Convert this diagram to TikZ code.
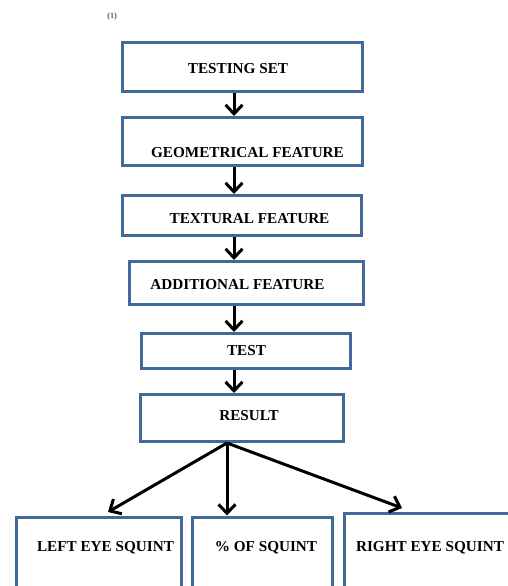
\documentclass[tikz,border=0pt]{standalone}
\usepackage{fontspec}
\setmainfont{Liberation Serif}
\usetikzlibrary{arrows.meta}
\definecolor{boxblue}{HTML}{41699A}
\tikzset{
  box/.style={draw=boxblue, line width=3pt, rectangle, inner sep=0pt, fill=white},
  lbl/.style={font=\fontsize{15.2}{17}\selectfont\bfseries, inner sep=0pt, anchor=center},
  arr/.style={draw=black, line width=3pt, -{Straight Barb[length=9pt,width=17pt,line width=3pt]}},
}
\begin{document}
\begin{tikzpicture}[x=1pt,y=-1pt]
\useasboundingbox[fill=white] (0,0) rectangle (507,586);
% boxes
\node[box, minimum width=240pt, minimum height=49pt] (b1) at (242.5,67) {};
\node[box, minimum width=240pt, minimum height=48pt] (b2) at (242,141.5) {};
\node[box, minimum width=239pt, minimum height=40pt] (b3) at (242,215.5) {};
\node[box, minimum width=234pt, minimum height=43pt] (b4) at (246.5,283) {};
\node[box, minimum width=209pt, minimum height=35pt] (b5) at (246,351) {};
\node[box, minimum width=203pt, minimum height=47pt] (b6) at (242,418) {};
\node[box, minimum width=165pt, minimum height=120pt] (b7) at (99,577) {};
\node[box, minimum width=140pt, minimum height=120pt] (b8) at (262.5,577) {};
\node[box, minimum width=196pt, minimum height=120pt] (b9) at (442,573) {};
% labels
\node[font=\fontsize{8}{9}\selectfont] (note) at (112,17) {(1)};
\node[lbl] (t1) at (238,69) {TESTING SET};
\node[lbl] (t2) at (247.5,153) {GEOMETRICAL FEATURE};
\node[lbl] (t3) at (249.5,219) {TEXTURAL FEATURE};
\node[lbl] (t4) at (237.5,285) {ADDITIONAL FEATURE};
\node[lbl] (t5) at (246.5,351) {TEST};
\node[lbl] (t6) at (249,416) {RESULT};
\node[lbl] (t7) at (105.5,548) {LEFT EYE SQUINT};
\node[lbl] (t8) at (266,548) {\% OF SQUINT};
\node[lbl] (t9) at (430,548) {RIGHT EYE SQUINT};
% connectors
\coordinate (ax) at (234,0);
\draw[arr] (b1.south -| ax) -- (b2.north -| ax);
\draw[arr] (b2.south -| ax) -- (b3.north -| ax);
\draw[arr] (b3.south -| ax) -- (b4.north -| ax);
\draw[arr] (b4.south -| ax) -- (b5.north -| ax);
\draw[arr] (b5.south -| ax) -- (b6.north -| ax);
\coordinate (fan) at (227,443);
\coordinate (e7) at (108,512);
\coordinate (e9) at (402,508);
\draw[arr] (fan) -- (e7);
\draw[arr] (fan) -- (b8.north -| fan);
\draw[arr] (fan) -- (e9);
\end{tikzpicture}
\end{document}
